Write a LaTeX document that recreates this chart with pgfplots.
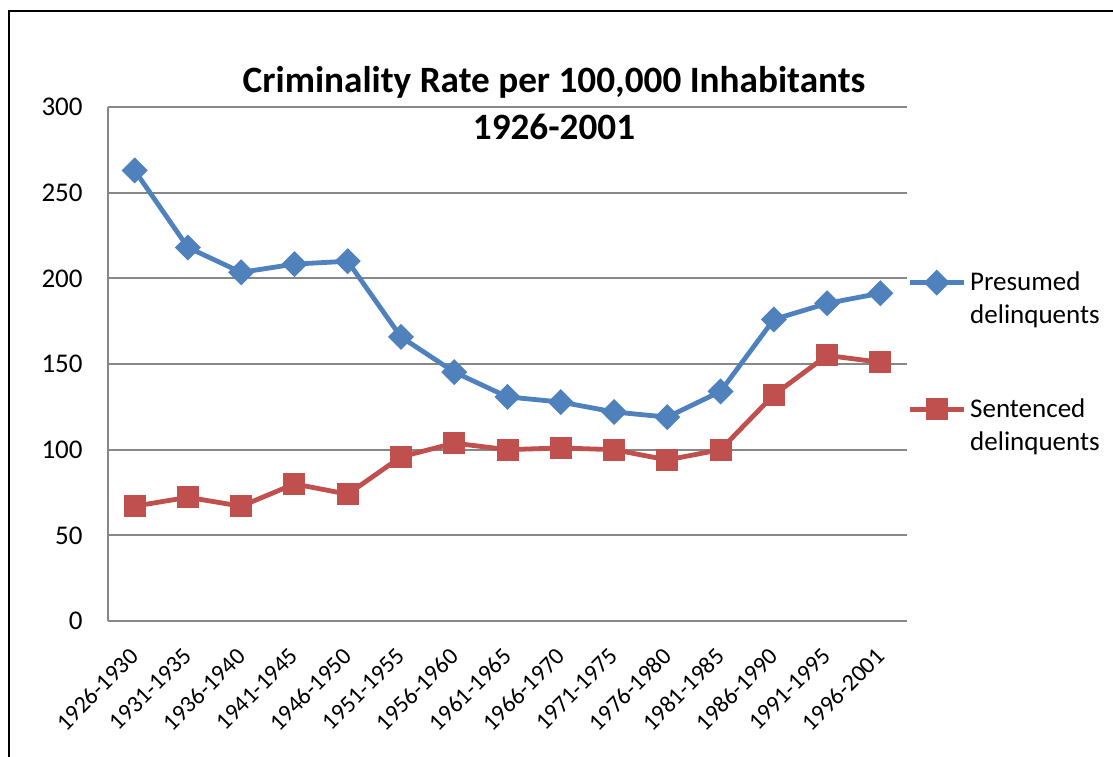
\documentclass[border=0pt]{standalone}
\usepackage{pgfplots}
\pgfplotsset{compat=1.18}
\usepackage{fontspec}
\setmainfont{Carlito}

\definecolor{presblue}{HTML}{4F81BD}
\definecolor{sentred}{HTML}{C0504D}
\definecolor{gridgray}{HTML}{878787}

\begin{document}
\begin{tikzpicture}
% page area and outer chart frame
\path[use as bounding box, clip] (0,0) rectangle (556.5pt,378pt);
\draw[line width=1.3pt] (4.5pt,-20pt) -- (4.5pt,372.5pt) -- (620pt,372.5pt);

% title
\node[font=\fontsize{18.6}{23.5}\selectfont\bfseries, align=center] at (277pt,326.5pt)
  {Criminality Rate per 100,000 Inhabitants\\1926-2001};

\begin{axis}[
  at={(54pt,67.5pt)}, anchor=south west,
  scale only axis, width=399.5pt, height=257pt,
  xmin=-0.5, xmax=14.5, ymin=0, ymax=300,
  ytick={0,50,...,300},
  xtick={0,...,14},
  xticklabels={1926-1930,1931-1935,1936-1940,1941-1945,1946-1950,1951-1955,1956-1960,1961-1965,1966-1970,1971-1975,1976-1980,1981-1985,1986-1990,1991-1995,1996-2001},
  axis x line*=bottom, axis y line*=left,
  axis line style={gridgray, line width=1pt, -},
  ymajorgrids, grid style={gridgray, line width=1pt},
  major tick length=0pt,
  yticklabel style={font=\fontsize{13.5}{15}\selectfont, anchor=east, inner sep=0pt, xshift=-12.5pt},
  /pgf/number format/assume math mode=true,
  xticklabel style={font=\fontsize{12}{14}\selectfont, xshift=-3pt, yshift=-12.5pt, rotate=45, anchor=north east, inner sep=0pt},
  legend style={draw=none, fill=none, at={(1.0,0.503)}, anchor=west,
    inner sep=0pt, font=\fontsize{13.5}{16.5}\selectfont,
    row sep=32pt, column sep=0pt,
    nodes={inner sep=2pt},
    cells={align=left}},
  legend cell align=left,
  legend image code/.code={%
    \draw[#1, mark repeat=2, mark phase=2, yshift=8.25pt]
      plot coordinates {(0pt,0pt) (13.5pt,0pt) (27pt,0pt)};},
  clip=false,
]
\addplot[presblue, line width=2.4pt, mark=square*, mark size=3.4pt,
  mark options={rotate=45, solid, fill=presblue, draw=presblue}]
  coordinates {
  (0,263) (1,218) (2,203.5) (3,208.3) (4,210) (5,165.8) (6,145.3) (7,130.8)
  (8,127.8) (9,122) (10,119) (11,134) (12,176) (13,185.4) (14,191.3)};
\addlegendentry{Presumed\\delinquents}

\addplot[sentred, line width=2.4pt, mark=square*, mark size=4.3pt,
  mark options={solid, fill=sentred, draw=sentred}]
  coordinates {
  (0,67) (1,72.2) (2,67) (3,80) (4,74) (5,95.8) (6,103.8) (7,100)
  (8,101) (9,100) (10,94) (11,100) (12,132) (13,155) (14,151)};
\addlegendentry{Sentenced\\delinquents}
\end{axis}
\end{tikzpicture}
\end{document}
